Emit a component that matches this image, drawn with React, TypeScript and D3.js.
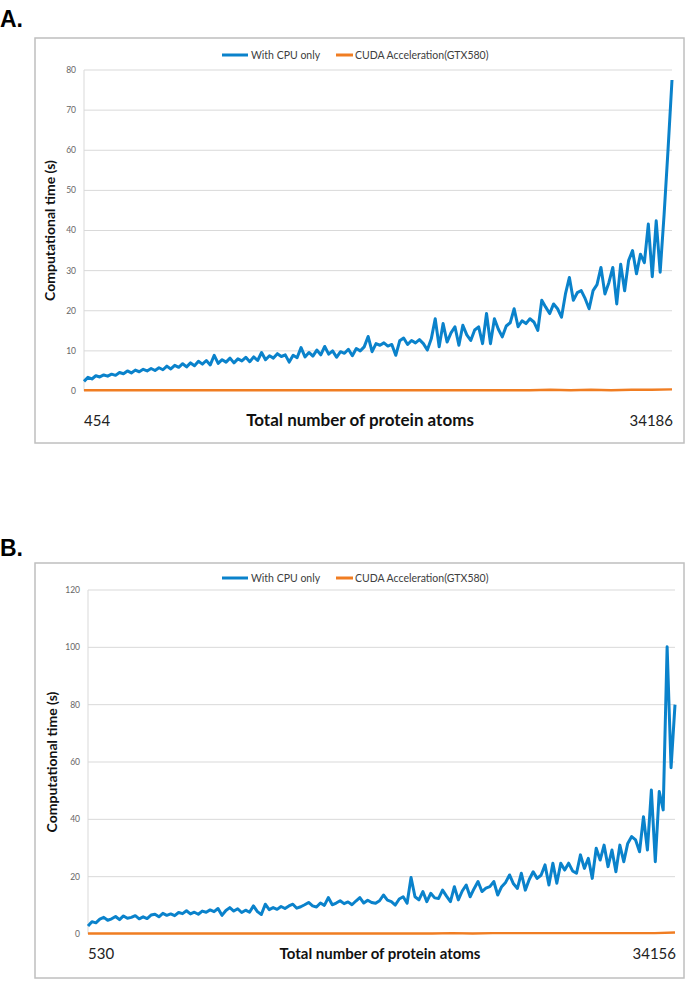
import React from 'react'
import * as d3 from 'd3'

// Panel A: CPU-only timings (s), proteins sorted by atom count
const cpuA = [
  2.4, 3.4, 3.0, 3.8, 3.5, 4.0, 3.7, 4.2, 3.9, 4.6,
  4.3, 5.0, 4.5, 5.2, 4.8, 5.4, 5.0, 5.6, 5.1, 5.8,
  5.3, 6.2, 5.5, 6.4, 5.9, 6.8, 6.0, 7.0, 6.3, 7.4,
  6.7, 7.6, 6.5, 8.9, 6.9, 7.8, 7.2, 8.2, 7.0, 8.0,
  7.5, 8.4, 7.3, 8.5, 7.6, 9.6, 7.8, 8.8, 8.2, 9.3,
  8.6, 9.0, 7.2, 8.9, 8.3, 10.8, 8.5, 9.6, 8.7, 10.2,
  9.0, 11.1, 9.2, 10.0, 8.4, 9.8, 9.4, 10.4, 8.8, 10.6,
  10.0, 11.0, 13.6, 9.8, 11.8, 11.4, 12.0, 11.2, 11.6, 8.9,
  12.5, 13.2, 11.6, 12.6, 12.0, 12.8, 11.8, 10.2, 13.0, 18.0,
  11.0, 16.8, 12.2, 14.5, 16.0, 11.4, 16.4, 14.0, 12.6, 15.2,
  16.0, 11.8, 19.3, 11.8, 18.0, 15.4, 13.5, 16.2, 17.0, 20.5,
  16.0, 17.5, 16.8, 18.0, 17.2, 15.1, 22.6, 20.9, 19.3, 21.7,
  20.5, 18.4, 24.2, 28.3, 22.6, 24.5, 25.0, 23.0, 20.5, 25.0,
  26.5, 30.8, 24.2, 27.0, 30.8, 21.7, 31.6, 25.0, 32.5, 35.0,
  29.2, 34.1, 32.0, 41.6, 28.5, 42.4, 29.6, 44.0, 60.2, 77.5,
]
// Panel A: GPU timings (s)
const cudaA = [
  0.2, 0.2, 0.2, 0.2, 0.2, 0.2, 0.2, 0.2, 0.2, 0.2,
  0.2, 0.2, 0.2, 0.2, 0.2, 0.2, 0.2, 0.2, 0.2, 0.2,
  0.2, 0.2, 0.2, 0.3, 0.2, 0.3, 0.2, 0.3, 0.3, 0.4,
]

// Panel B
const cpuB = [
  2.8, 4.3, 3.9, 5.2, 5.8, 4.8, 5.3, 6.1, 5.0, 6.3,
  5.5, 5.8, 6.4, 5.3, 6.0, 5.4, 6.6, 6.9, 6.0, 7.2,
  6.5, 7.0, 6.4, 7.5, 7.1, 8.1, 7.0, 7.6, 6.9, 8.0,
  7.6, 8.4, 7.8, 8.9, 6.5, 8.2, 9.2, 8.0, 8.8, 7.5,
  8.3, 7.6, 9.8, 7.8, 6.8, 10.4, 8.5, 9.2, 8.6, 9.6,
  8.9, 9.8, 10.4, 9.0, 9.5, 10.2, 11.0, 9.8, 9.4, 10.8,
  10.0, 12.7, 10.2, 10.8, 11.6, 10.6, 11.2, 10.2, 11.5, 12.7,
  10.8, 11.8, 11.0, 10.7, 11.6, 13.6, 11.8, 11.3, 10.1, 12.2,
  13.0, 10.7, 19.7, 13.0, 11.9, 14.8, 11.3, 14.2, 12.6, 12.4,
  15.3, 13.2, 11.3, 16.5, 11.9, 15.0, 17.1, 13.0, 15.8, 18.3,
  14.8, 16.0, 16.5, 18.3, 13.6, 16.5, 18.0, 20.6, 17.5, 15.9,
  21.2, 15.3, 19.0, 21.7, 19.4, 20.5, 24.1, 17.1, 24.7, 17.7,
  24.7, 22.3, 24.7, 22.0, 21.2, 27.6, 22.9, 26.4, 19.4, 29.9,
  25.8, 31.0, 23.5, 29.3, 21.7, 31.0, 25.2, 31.6, 34.0, 32.8,
  28.7, 40.9, 29.3, 50.2, 25.2, 49.7, 43.3, 100.2, 58.0, 80.0,
]
const cudaB = [
  0.2, 0.2, 0.2, 0.2, 0.2, 0.2, 0.2, 0.2, 0.2, 0.2,
  0.2, 0.2, 0.2, 0.2, 0.2, 0.2, 0.2, 0.2, 0.3, 0.2,
  0.3, 0.3, 0.3, 0.3, 0.3, 0.3, 0.3, 0.3, 0.3, 0.5,
]

const yTicksA = [0, 10, 20, 30, 40, 50, 60, 70, 80]
const yTicksB = [0, 20, 40, 60, 80, 100, 120]
const xEndsA = ['454', '34186']
const xEndsB = ['530', '34156']
const seriesNames = ['With CPU only', 'CUDA Acceleration(GTX580)']
const xTitle = 'Total number of protein atoms'
const yTitle = 'Computational time (s)'

const BLUE = '#0a82cb'
const ORANGE = '#f07d22'
const GRID = '#d9d9d9'
const FONT = 'Lato, "Open Sans", sans-serif'

interface PanelProps {
  letter: string
  letterY: number
  frame: { x: number; y: number; w: number; h: number }
  plot: { left: number; right: number; top: number; bottom: number }
  legendY: number
  yTitleX: number
  xLabelY: number
  xTitleSize: number
  xTitleX: number
  cpu: number[]
  cuda: number[]
  yTicks: number[]
  xEnds: string[]
}

function Panel({ letter, letterY, frame, plot, legendY, yTitleX, xLabelY, xTitleSize, xTitleX, cpu, cuda, yTicks, xEnds }: PanelProps) {
  const y = d3.scaleLinear()
    .domain([0, yTicks[yTicks.length - 1]])
    .range([plot.bottom, plot.top])
  const xCpu = d3.scaleLinear().domain([0, cpu.length - 1]).range([plot.left, plot.right])
  const xCuda = d3.scaleLinear().domain([0, cuda.length - 1]).range([plot.left, plot.right])

  const lineCpu = d3.line<number>().x((_, i) => xCpu(i)).y(d => y(d))
  const lineCuda = d3.line<number>().x((_, i) => xCuda(i)).y(d => y(d))

  const legendX = 222
  return (
    <g>
      <text x={0} y={letterY} fontFamily="'Liberation Sans', Arial, sans-serif" fontWeight="bold" fontSize={23}>{letter}</text>
      <rect x={frame.x} y={frame.y} width={frame.w} height={frame.h} fill="#fff" stroke="#bfbfbf" strokeWidth={1.5} />

      {/* legend */}
      <line x1={legendX} x2={legendX + 26} y1={legendY} y2={legendY} stroke={BLUE} strokeWidth={3} />
      <text x={legendX + 29} y={legendY + 3.5} fontFamily={FONT} fontSize={10.5} fill="#404040">{seriesNames[0]}</text>
      <line x1={legendX + 114} x2={legendX + 131} y1={legendY} y2={legendY} stroke={ORANGE} strokeWidth={3} />
      <text x={legendX + 133} y={legendY + 3.5} fontFamily={FONT} fontSize={10.5} fill="#404040">{seriesNames[1]}</text>

      {/* grid + y ticks */}
      {yTicks.map(t => (
        <g key={t}>
          {t > 0 && <line x1={plot.left} x2={plot.right} y1={y(t)} y2={y(t)} stroke={GRID} strokeWidth={1} />}
          <text x={plot.left - 8} y={y(t)} dy="0.35em" textAnchor="end" fontFamily={FONT} fontSize={8.5} fill="#666">{t}</text>
        </g>
      ))}
      <line x1={plot.left} x2={plot.left} y1={plot.top} y2={plot.bottom} stroke={GRID} strokeWidth={1} />

      <text
        transform={`translate(${yTitleX},${(plot.top + plot.bottom) / 2}) rotate(-90)`}
        textAnchor="middle"
        fontFamily={FONT}
        fontWeight="bold"
        fontSize={14}
        fill="#111"
      >{yTitle}</text>

      {/* series */}
      <path d={lineCpu(cpu) ?? ''} fill="none" stroke={BLUE} strokeWidth={3} strokeLinejoin="round" />
      <path d={lineCuda(cuda) ?? ''} fill="none" stroke={ORANGE} strokeWidth={2.4} />

      {/* x labels */}
      <text x={plot.left} y={xLabelY} fontFamily={FONT} fontSize={15} fill="#222">{xEnds[0]}</text>
      <text x={plot.right + 1} y={xLabelY} textAnchor="end" fontFamily={FONT} fontSize={15} fill="#222">{xEnds[1]}</text>
      <text x={xTitleX} y={xLabelY} textAnchor="middle" fontFamily={FONT} fontWeight="bold" fontSize={xTitleSize} fill="#111">{xTitle}</text>
    </g>
  )
}

export default function App() {
  return (
    <svg width={685} height={982} style={{ position: 'absolute', left: 0, top: 0, background: '#fff' }}>
      <rect width={685} height={982} fill="#fff" />
      <Panel
        letter="A."
        letterY={27}
        frame={{ x: 35, y: 38, w: 649, h: 405 }}
        plot={{ left: 84, right: 672, top: 70, bottom: 391 }}
        legendY={55}
        yTitleX={55}
        xLabelY={426}
        xTitleSize={17}
        xTitleX={360}
        cpu={cpuA}
        cuda={cudaA}
        yTicks={yTicksA}
        xEnds={xEndsA}
      />
      <Panel
        letter="B."
        letterY={556}
        frame={{ x: 35, y: 563, w: 649, h: 415 }}
        plot={{ left: 88, right: 675, top: 590, bottom: 934 }}
        legendY={578}
        yTitleX={57}
        xLabelY={959}
        xTitleSize={15}
        xTitleX={380}
        cpu={cpuB}
        cuda={cudaB}
        yTicks={yTicksB}
        xEnds={xEndsB}
      />
    </svg>
  )
}
